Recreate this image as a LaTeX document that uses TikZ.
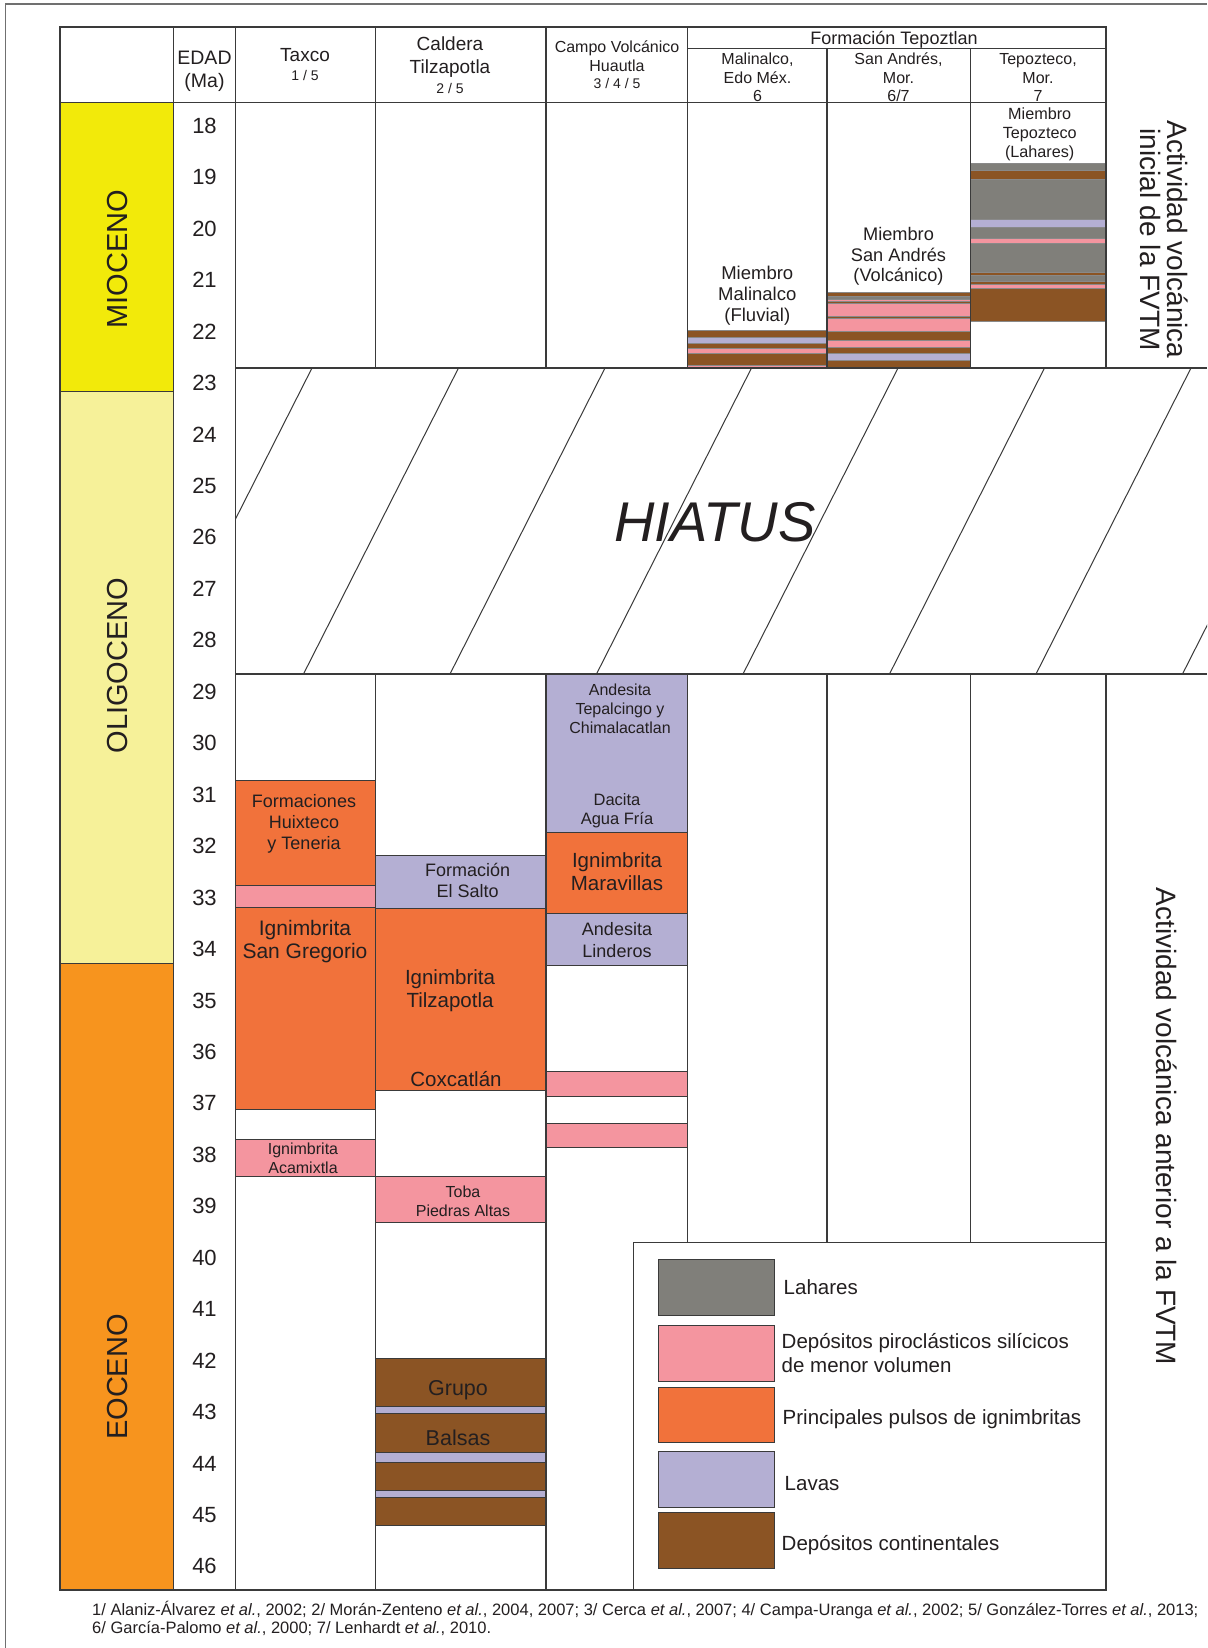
\documentclass[tikz,border=0pt]{standalone}
\usepackage{fontspec}
\setmainfont{Liberation Sans}
\setsansfont{Liberation Sans}
\usepackage{tikz}
\usetikzlibrary{positioning}
\usepackage{xcolor}

\definecolor{mioc}{RGB}{242,234,10}
\definecolor{olig}{RGB}{246,241,153}
\definecolor{eoc}{RGB}{247,148,30}
\definecolor{ignim}{RGB}{241,114,59}
\definecolor{piro}{RGB}{244,149,159}
\definecolor{lava}{RGB}{180,175,211}
\definecolor{conti}{RGB}{139,84,36}
\definecolor{lahar}{RGB}{128,127,122}
\definecolor{linea}{RGB}{58,58,58}
\definecolor{marco}{RGB}{112,112,112}
\definecolor{texto}{RGB}{35,31,32}

\newcommand{\fs}[2]{\fontsize{#1}{#2}\selectfont}

\begin{document}
\begin{tikzpicture}[
  x=1pt, y=-1pt,
  grid/.style={draw=linea, line width=1.2pt},
  capa/.style={draw=linea, line width=0.9pt},
  fina/.style={draw=linea!60, line width=0.4pt},
  lbl/.style={text=texto, align=center, inner sep=0pt},
  edad/.style={lbl, font=\fs{22}{24}},
  periodo/.style={lbl, font=\fs{29}{32}, rotate=90},
  muestra/.style={draw=linea, line width=0.9pt, minimum width=115.7pt, minimum height=55.5pt, inner sep=0pt},
  leyenda/.style={text=texto, align=left, inner sep=0pt, font=\fs{20.5}{24}},
]
\useasboundingbox (0,0) rectangle (1207,1648);
\fill[white] (0,0) rectangle (1207,1648);
\draw[marco, line width=1.6pt] (5.5,1648) -- (5.5,4) -- (1207,4);

% Periodos
\draw[capa, fill=mioc] (60,102.7) rectangle (173.5,391);
\draw[capa, fill=olig] (60,391) rectangle (173.5,963);
\draw[capa, fill=eoc] (60,963) rectangle (173.5,1590);
\node[periodo] (mio) at (117.7,259) {MIOCENO};
\node[periodo] (oli) at (117.7,665.5) {OLIGOCENO};
\node[periodo] (eoc) at (117.7,1377) {EOCENO};

% Edades
\foreach \a in {18,...,46}
  \node[edad] (a\a) at (204.5,{125.8+(\a-18)*51.45}) {\a};

% Taxco
\draw[capa, fill=ignim] (235.5,780) rectangle (375.3,885);
\draw[capa, fill=piro] (235.5,885) rectangle (375.3,907.7);
\draw[capa, fill=ignim] (235.5,907.7) rectangle (375.3,1109);
\draw[capa, fill=piro] (235.5,1139) rectangle (375.3,1176);
\node[lbl, font=\fs{18}{21}] (huix) at (304,824) {Formaciones\\Huixteco\\y Teneria};
\node[lbl, font=\fs{21}{23}] (sangreg) at (305,941.5) {Ignimbrita\\San Gregorio};
\node[lbl, font=\fs{16}{18.7}] (acam) at (303,1158.4) {Ignimbrita\\Acamixtla};

% Caldera Tilzapotla
\draw[capa, fill=lava] (375.3,855.3) rectangle (546,908.3);
\draw[capa, fill=ignim] (375.3,908.3) rectangle (546,1090.3);
\draw[capa, fill=piro] (375.3,1176.7) rectangle (546,1222);
\draw[capa, fill=conti] (375.3,1358.3) rectangle (546,1406);
\draw[capa, fill=lava] (375.3,1406) rectangle (546,1413.3);
\draw[capa, fill=conti] (375.3,1413.3) rectangle (546,1452.7);
\draw[capa, fill=lava] (375.3,1452.7) rectangle (546,1462);
\draw[capa, fill=conti] (375.3,1462) rectangle (546,1490);
\draw[capa, fill=lava] (375.3,1490) rectangle (546,1497.3);
\draw[capa, fill=conti] (375.3,1497.3) rectangle (546,1525);
\node[lbl, font=\fs{18}{21}] (salto) at (467.7,880.5) {Formación\\El Salto};
\node[lbl, font=\fs{20.5}{23}] (tilza) at (450,990.5) {Ignimbrita\\Tilzapotla};
\node[lbl, font=\fs{20.5}{23}] (coxca) at (456,1079) {Coxcatlán};
\node[lbl, font=\fs{16}{19}] (toba) at (463,1201.5) {Toba\\Piedras Altas};
\node[lbl, font=\fs{21.5}{24}] (grupo) at (458,1390.5) {Grupo};
\node[lbl, font=\fs{21.5}{24}] (balsas) at (458,1437.7) {Balsas};

% Campo Volcanico Huautla
\draw[capa, fill=lava] (546,674) rectangle (687.5,832.7);
\draw[capa, fill=ignim] (546,832.7) rectangle (687.5,913.3);
\draw[capa, fill=lava] (546,913.3) rectangle (687.5,965);
\draw[capa, fill=piro] (546,1071) rectangle (687.5,1096.7);
\draw[capa, fill=piro] (546,1123.3) rectangle (687.5,1147.7);
\node[lbl, font=\fs{16}{18.8}] (tepal) at (620,708.9) {Andesita\\Tepalcingo y\\Chimalacatlan};
\node[lbl, font=\fs{16.5}{19}] (dacita) at (617,810.8) {Dacita\\Agua Fría};
\node[lbl, font=\fs{20.5}{23.3}] (marav) at (617,871.7) {Ignimbrita\\Maravillas};
\node[lbl, font=\fs{18}{21.7}] (linde) at (617,940) {Andesita\\Linderos};

% Formacion Tepoztlan
\foreach \t/\b/\c in {330.6/337.6/conti, 337.6/343.4/lava, 343.4/348/conti, 348/352.8/piro,
  352.8/364.9/conti, 364.9/368/piro}
  \draw[fina, fill=\c] (687.5,\t) rectangle (827,\b);
\foreach \t/\b/\c in {292.6/296/conti, 296/299/lahar, 299/301/piro, 301/303.4/conti,
  303.4/316.1/piro, 316.1/318.5/conti, 318.5/331.4/piro, 331.4/340/conti, 340/346.7/piro,
  346.7/353/conti, 353/360.5/lava, 360.5/368/conti}
  \draw[fina, fill=\c] (827,\t) rectangle (970.5,\b);
\foreach \t/\b/\c in {163.2/170.6/lahar, 170.6/179.3/conti, 179.3/218.7/lahar, 218.7/227/lava,
  227/238.5/lahar, 238.5/242.9/piro, 242.9/272.4/lahar, 272.4/275.5/conti, 275.5/281.5/lahar,
  281.5/284.2/conti, 284.2/288.2/piro, 288.2/320.8/conti}
  \draw[fina, fill=\c] (970.5,\t) rectangle (1106,\b);
\node[lbl, font=\fs{18.5}{21}] (mmali) at (757.3,296) {Miembro\\Malinalco\\(Fluvial)};
\node[lbl, font=\fs{18.2}{20.8}] (msanan) at (898.5,256.4) {Miembro\\San Andrés\\(Volcánico)};
\node[lbl, font=\fs{16.2}{19}] (mtepoz) at (1039.7,134.7) {Miembro\\Tepozteco\\(Lahares)};

% Hiato
\begin{scope}
  \clip (235.5,368) rectangle (1207,674);
  \foreach \b in {157,303.5,450,596.5,743,889.5,1036,1182.5}
    \draw[linea, line width=1pt] (\b,674) -- ++(155,-306);
\end{scope}
\node[lbl, font=\fs{56}{60}\itshape] (hiatus) at (715,522.5) {HIATUS};

% Encabezados
\node[lbl, font=\fs{19.5}{23}] (edadh) at (204.5,71.5) {EDAD\\(Ma)};
\node[lbl, font=\fs{19}{22}] (taxco) at (305,54.6) {Taxco};
\node[lbl, font=\fs{14}{16}] (taxcor) at (305,75.7) {1 / 5};
\node[lbl, font=\fs{19}{23}] (caldera) at (450,57.5) {Caldera\\Tilzapotla};
\node[lbl, font=\fs{14}{16}] (calderar) at (450,88) {2 / 5};
\node[lbl, font=\fs{16}{18.5}] (campo) at (617,56) {Campo Volcánico\\Huautla};
\node[lbl, font=\fs{14}{16}] (campor) at (617,83) {3 / 4 / 5};
\node[lbl, font=\fs{18}{20}] (tepoz) at (894,40) {Formación Tepoztlan};
\node[lbl, font=\fs{16}{18.5}] (mali) at (757.5,77.5) {Malinalco,\\Edo Méx.\\6};
\node[lbl, font=\fs{16}{18.5}] (sanan) at (898.5,77.5) {San Andrés,\\Mor.\\6/7};
\node[lbl, font=\fs{16}{18.5}] (tepoc) at (1038,77.5) {Tepozteco,\\Mor.\\7};

% Lineas de la tabla
\draw[grid] (1106,368) -- (1106,27) -- (60,27) -- (60,1590) -- (1106,1590) -- (1106,674);
\draw[grid] (60,102.7) -- (1106,102.7);
\draw[grid] (687.5,48.5) -- (1106,48.5);
\draw[grid] (173.5,27) -- (173.5,1590);
\draw[grid] (235.5,27) -- (235.5,1590);
\draw[grid] (375.3,27) -- (375.3,368) (375.3,674) -- (375.3,1590);
\draw[grid] (546,27) -- (546,368) (546,674) -- (546,1590);
\draw[grid] (687.5,27) -- (687.5,368) (687.5,674) -- (687.5,1242.7);
\draw[grid] (827,48.5) -- (827,368) (827,674) -- (827,1242.7);
\draw[grid] (970.5,48.5) -- (970.5,368) (970.5,674) -- (970.5,1242.7);
\draw[grid] (235.5,368) -- (1207,368) (235.5,674) -- (1207,674);

% Actividad volcanica
\node[lbl, font=\fs{28}{27.5}, rotate=-90] (actini) at (1164,239.5) {Actividad volcánica\\inicial de la FVTM};
\node[lbl, font=\fs{28}{30}, rotate=-90] (actant) at (1166.7,1126.5) {Actividad volcánica anterior a la FVTM};

% Leyenda
\draw[grid] (633.7,1590) -- (633.7,1242.7) -- (1106,1242.7);
\node[muestra, fill=lahar] (mlah) at (716.2,1287.2) {};
\node[muestra, fill=piro] (mpiro) at (716.2,1353.2) {};
\node[muestra, fill=ignim] (mign) at (716.2,1415) {};
\node[muestra, fill=lava] (mlava) at (716.2,1479.5) {};
\node[muestra, fill=conti] (mcont) at (716.2,1540.5) {};
\node[leyenda, right=9pt of mlah] (llah) {Lahares};
\node[leyenda, right=7pt of mpiro] (lpiro) {Depósitos piroclásticos silícicos\\de menor volumen};
\node[leyenda, right=8pt of mign, yshift=-4pt] (lign) {Principales pulsos de ignimbritas};
\node[leyenda, right=10pt of mlava, yshift=-4pt] (llava) {Lavas};
\node[leyenda, right=7pt of mcont, yshift=-5pt] (lcont) {Depósitos continentales};

% Referencias
\node[text=texto, inner sep=0pt, anchor=west, font=\fs{16.5}{18.3}] (ref1) at (92,1610)
  {1/ Alaniz-Álvarez \textit{et al.}, 2002; 2/ Morán-Zenteno \textit{et al.}, 2004, 2007; 3/ Cerca \textit{et al.}, 2007; 4/ Campa-Uranga \textit{et al.}, 2002; 5/ González-Torres \textit{et al.}, 2013;};
\node[text=texto, inner sep=0pt, anchor=west, font=\fs{16.5}{18.3}] (ref2) at (92,1628.3)
  {6/ García-Palomo \textit{et al.}, 2000; 7/ Lenhardt \textit{et al.}, 2010.};
\end{tikzpicture}
\end{document}
